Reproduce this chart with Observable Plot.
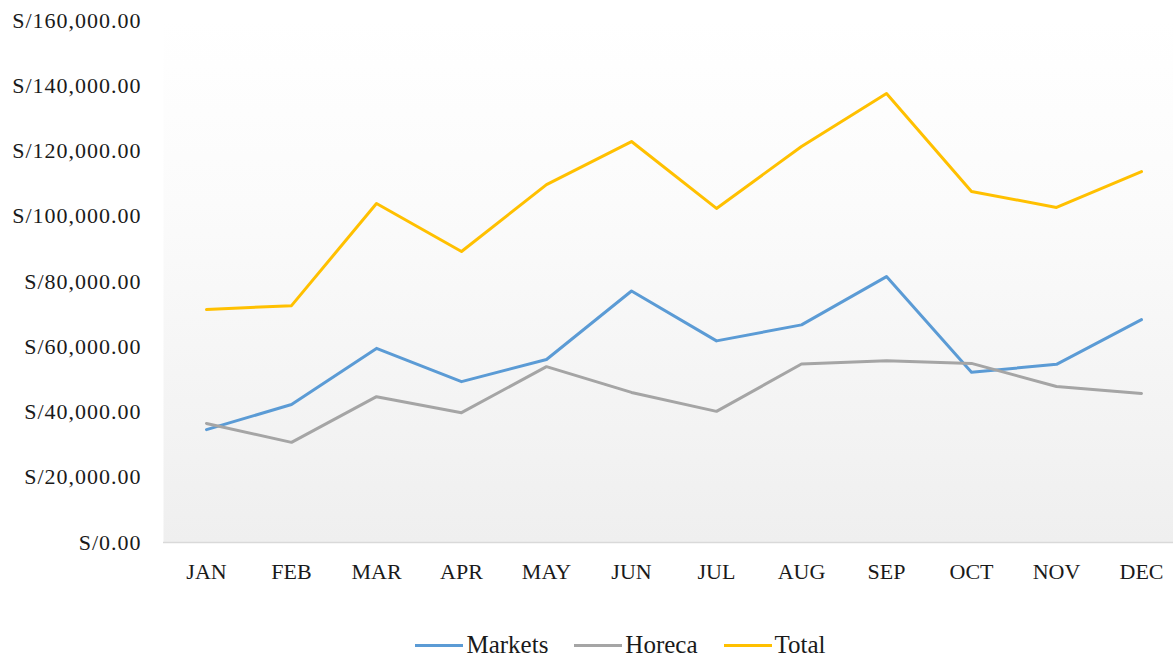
<!DOCTYPE html>
<html>
<head>
<meta charset="utf-8">
<script src="https://cdn.jsdelivr.net/npm/d3@7"></script>
<script src="https://cdn.jsdelivr.net/npm/@observablehq/plot@0.6"></script>
<style>
  html, body { margin: 0; padding: 0; background: #ffffff; }
  body { width: 1173px; height: 657px; overflow: hidden; font-family: "Liberation Serif", "Times New Roman", serif; }
  #legend { display: flex; justify-content: center; align-items: center; margin-top: 12px; padding-left: 68px; font-size: 25px; color: #1a1a1a; line-height: 26px; }
  .item { display: flex; align-items: center; margin: 0 13px; }
  .sw { width: 48px; height: 3px; margin-right: 3px; }
  g[aria-label="y-axis tick label"] text { letter-spacing: 1px; }
</style>
</head>
<body>
<div id="chart"></div>
<div id="legend"></div>
<script>
const months = ["JAN","FEB","MAR","APR","MAY","JUN","JUL","AUG","SEP","OCT","NOV","DEC"];
const markets = [34600, 42300, 59500, 49300, 56100, 77100, 61800, 66700, 81500, 52200, 54600, 68300];
const horeca  = [36500, 30700, 44700, 39800, 53900, 46000, 40200, 54700, 55700, 54900, 47800, 45700];
const total   = [71400, 72600, 103900, 89200, 109700, 122900, 102400, 121400, 137600, 107600, 102700, 113700];
const yTicks = [0, 20000, 40000, 60000, 80000, 100000, 120000, 140000, 160000];
const seriesNames = ["Markets", "Horeca", "Total"];
const seriesColors = ["#5B9BD5", "#A5A5A5", "#FFC000"];

const seriesValues = [markets, horeca, total];
const data = [];
seriesNames.forEach((s, k) => months.forEach((m, i) => data.push({series: s, month: m, value: seriesValues[k][i]})));

const fmt = d => "S/" + d3.format(",.2f")(d);

const gradientDefs = () => {
  const defs = d3.create("svg:defs");
  const g = defs.append("linearGradient").attr("id", "bgGrad").attr("x1", 0).attr("y1", 0).attr("x2", 0).attr("y2", 1);
  g.append("stop").attr("offset", "0%").attr("stop-color", "#ffffff");
  g.append("stop").attr("offset", "35%").attr("stop-color", "#fbfbfb");
  g.append("stop").attr("offset", "100%").attr("stop-color", "#efefef");
  return defs.node();
};

const chart = Plot.plot({
  width: 1173,
  height: 620,
  marginLeft: 163,
  marginRight: 0,
  marginTop: 20,
  marginBottom: 78,
  style: { fontFamily: "'Liberation Serif', 'Times New Roman', serif", fontSize: "22px", color: "#1a1a1a", background: "transparent", overflow: "visible" },
  x: { type: "point", domain: months, range: [204, 1142], padding: 0, label: null, tickSize: 0, tickPadding: 21 },
  y: { domain: [0, 160000], ticks: yTicks, tickFormat: fmt, label: null, tickSize: 0, tickPadding: 22 },
  color: { domain: seriesNames, range: seriesColors },
  marks: [
    gradientDefs,
    Plot.frame({ fill: "url(#bgGrad)", stroke: null }),
    Plot.ruleY([0], { stroke: "#d9d9d9", strokeWidth: 1.5 }),
    Plot.lineY(data, { x: "month", y: "value", stroke: "series", strokeWidth: 3, strokeLinejoin: "round", strokeLinecap: "round" })
  ]
});
document.getElementById("chart").appendChild(chart);

const legend = document.getElementById("legend");
seriesNames.forEach((s, i) => {
  const item = document.createElement("div");
  item.className = "item";
  const sw = document.createElement("div");
  sw.className = "sw";
  sw.style.background = seriesColors[i];
  const t = document.createElement("span");
  t.textContent = s;
  item.appendChild(sw);
  item.appendChild(t);
  legend.appendChild(item);
});
</script>
</body>
</html>
